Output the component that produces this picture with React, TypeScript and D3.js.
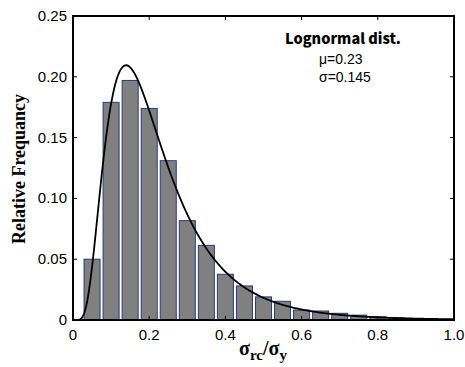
import React from "react";
import * as d3 from "d3";

const binCenters = [0.05, 0.1, 0.15, 0.2, 0.25, 0.3, 0.35, 0.4, 0.45, 0.5, 0.55, 0.6, 0.65, 0.7, 0.75, 0.8, 0.85, 0.9, 0.95];
const frequencies = [0.05, 0.179, 0.197, 0.174, 0.131, 0.0817, 0.0614, 0.0376, 0.028, 0.019, 0.0154, 0.0082, 0.0074, 0.0055, 0.004, 0.0027, 0.0018, 0.001, 0.0005];
const xTicks = [0, 0.2, 0.4, 0.6, 0.8, 1.0];
const xTickLabels = ["0", "0.2", "0.4", "0.6", "0.8", "1.0"];
const yTicks = [0, 0.05, 0.1, 0.15, 0.2, 0.25];
const yTickLabels = ["0", "0.05", "0.10", "0.15", "0.20", "0.25"];
const fitMean = 0.23;
const fitSd = 0.145;
const binWidth = 0.05;

const W = 465, H = 367;
const L = 73, R = 454, T = 16, B = 320;

export default function App() {
  const x = d3.scaleLinear().domain([0, 1]).range([L, R]);
  const y = d3.scaleLinear().domain([0, 0.25]).range([B, T]);
  const s2 = Math.log(1 + (fitSd / fitMean) ** 2);
  const sl = Math.sqrt(s2);
  const ml = Math.log(fitMean) - s2 / 2;
  const pdf = (v: number) =>
    v <= 0 ? 0 : (binWidth / (v * sl * Math.sqrt(2 * Math.PI))) * Math.exp(-((Math.log(v) - ml) ** 2) / (2 * s2));
  const xs = d3.range(0, 1.0001, 0.0025);
  const line = d3.line<number>().x((v) => x(v)).y((v) => y(pdf(v)));
  const bw = x(0.042) - x(0);
  const tl = 4;
  return (
    <svg width={W} height={H} style={{ display: "block", position: "absolute", left: 0, top: 0, background: "#fff" }}>
      {binCenters.map((c, i) => (
        <rect key={i} x={x(c) - bw / 2} y={y(frequencies[i])} width={bw} height={B - y(frequencies[i])}
          fill="#808080" stroke="#2a3a7a" strokeWidth={1} />
      ))}
      <path d={line(xs) || ""} fill="none" stroke="#000" strokeWidth={1.8} />
      <rect x={L} y={T} width={R - L} height={B - T} fill="none" stroke="#000" strokeWidth={2} />
      {xTicks.map((t, i) => (
        <g key={"x" + i}>
          <line x1={x(t)} x2={x(t)} y1={B} y2={B - tl} stroke="#000" strokeWidth={1} />
          <line x1={x(t)} x2={x(t)} y1={T} y2={T + tl} stroke="#000" strokeWidth={1} />
          <text x={x(t)} y={B + 20} textAnchor="middle" fontFamily="Liberation Sans, Arial, sans-serif" fontSize={15}>{xTickLabels[i]}</text>
        </g>
      ))}
      {yTicks.map((t, i) => (
        <g key={"y" + i}>
          <line x1={L} x2={L + tl} y1={y(t)} y2={y(t)} stroke="#000" strokeWidth={1} />
          <line x1={R} x2={R - tl} y1={y(t)} y2={y(t)} stroke="#000" strokeWidth={1} />
          <text x={L - 6} y={y(t) + 5} textAnchor="end" fontFamily="Liberation Sans, Arial, sans-serif" fontSize={15}>{yTickLabels[i]}</text>
        </g>
      ))}
      <text transform={`translate(25,169) rotate(-90)`} textAnchor="middle" fontFamily="Liberation Serif, Times New Roman, serif" fontWeight="bold" fontSize={18}>Relative Frequancy</text>
      <text x={263} y={355} textAnchor="middle" fontFamily="Liberation Serif, Times New Roman, serif" fontWeight="bold">
        <tspan fontSize={20}>σ</tspan>
        <tspan fontSize={15} dy={5}>rc</tspan>
        <tspan fontSize={20} dy={-5}>/σ</tspan>
        <tspan fontSize={15} dy={5}>y</tspan>
      </text>
      <text x={285} y={44} fontFamily="Noto Sans CJK JP, DejaVu Sans, sans-serif" fontWeight={900} fontSize={14.5}>Lognormal dist.</text>
      <text x={319} y={64} fontFamily="Liberation Sans, Arial, sans-serif" fontSize={14}>μ=0.23</text>
      <text x={319} y={82} fontFamily="Liberation Sans, Arial, sans-serif" fontSize={14}>σ=0.145</text>
    </svg>
  );
}
